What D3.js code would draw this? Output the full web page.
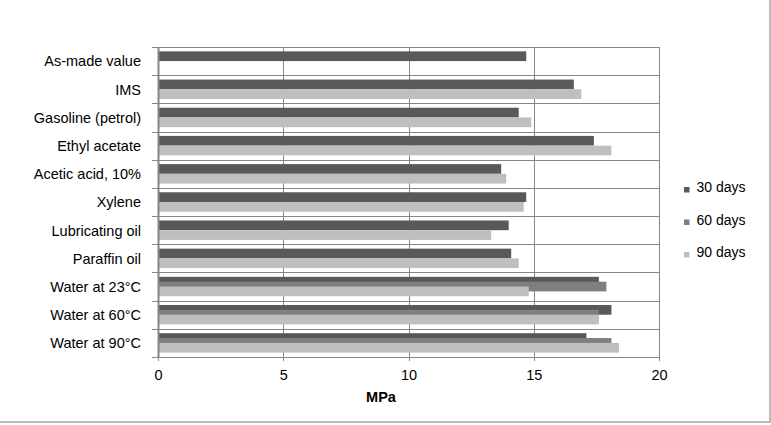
<!DOCTYPE html>
<html><head><meta charset="utf-8">
<script src="https://cdn.jsdelivr.net/npm/d3@7"></script>
<style>body{margin:0;background:#fff}svg{display:block}text{font-family:"Liberation Sans",Arial,sans-serif;fill:#000}</style>
</head><body><svg id="c" width="771" height="425"></svg>
<script>
const categories = ["As-made value","IMS","Gasoline (petrol)","Ethyl acetate","Acetic acid, 10%","Xylene","Lubricating oil","Paraffin oil","Water at 23°C","Water at 60°C","Water at 90°C"];
const seriesNames = ["30 days","60 days","90 days"];
const days30 = [14.7,16.6,14.4,17.4,13.7,14.7,14.0,14.1,17.6,18.1,17.1];
const days60 = [null,null,null,null,null,null,null,null,17.9,17.6,18.1];
const days90 = [null,16.9,14.9,18.1,13.9,14.6,13.3,14.4,14.8,17.6,18.4];
const xTicks = [0,5,10,15,20];
const colors = ["#595959","#7f7f7f","#bfbfbf"];
const series = [days30, days60, days90];

const svg = d3.select("#c");
const L=158, R=659, T=47, B=357;
const x = d3.scaleLinear().domain([0,20]).range([L,R]);
const y = d3.scaleBand().domain(categories).range([T,B]).paddingInner(0).paddingOuter(0);
const bw = y.bandwidth();
const bh = bw*0.345;
const step = bh/2;
const groupH = bh + 2*step;
const off0 = (bw-groupH)/2;

// outer frame
svg.append("rect").attr("x",-2).attr("y",-2).attr("width",772).attr("height",424).attr("fill","none").attr("stroke","#a6a6a6").attr("stroke-width",1.5);

// vertical gridlines
svg.append("g").selectAll("line").data(xTicks).join("line")
  .attr("x1",d=>Math.round(x(d))+0.5).attr("x2",d=>Math.round(x(d))+0.5)
  .attr("y1",T).attr("y2",B+4).attr("stroke","#868686").attr("stroke-width",1);
// horizontal lines at category boundaries
const bounds = categories.map(c=>y(c)).concat([B]);
svg.append("g").selectAll("line").data(bounds).join("line")
  .attr("x1",L-6).attr("x2",R).attr("y1",d=>Math.round(d)+0.5).attr("y2",d=>Math.round(d)+0.5)
  .attr("stroke","#868686").attr("stroke-width",1);

// bars
series.forEach((s,i)=>{
  svg.append("g").selectAll("rect").data(categories.map((c,j)=>({c,v:s[j]})).filter(d=>d.v!=null)).join("rect")
    .attr("x",x(0)).attr("y",d=>y(d.c)+off0+i*step).attr("width",d=>x(d.v)-x(0)).attr("height",bh)
    .attr("fill",colors[i]);
});

// left axis line
svg.append("line").attr("x1",L+0.5).attr("x2",L+0.5).attr("y1",T).attr("y2",B+1).attr("stroke","#868686").attr("stroke-width",2);

// category labels
svg.append("g").selectAll("text").data(categories).join("text")
  .attr("x",141).attr("y",d=>y(d)+bw/2).attr("dy","0.37em").attr("text-anchor","end")
  .attr("font-size",14.5).text(d=>d);

// x axis
const xa = d3.axisBottom(x).tickValues(xTicks).tickSize(0).tickPadding(0).tickFormat(d3.format("d"));
const gx = svg.append("g").attr("transform",`translate(0,0)`).call(xa);
gx.select(".domain").remove();
gx.selectAll("text").attr("font-size",14.5).attr("font-family","Liberation Sans, Arial, sans-serif").attr("fill","#000").attr("y",379.5).attr("dy",null);

svg.append("text").attr("x",381).attr("y",401.5).attr("text-anchor","middle").attr("font-size",14.5).attr("font-weight","bold").text("MPa");

// legend
const lg = svg.append("g").selectAll("g").data(seriesNames).join("g")
  .attr("transform",(d,i)=>`translate(684,${189.5+i*32.5})`);
lg.append("rect").attr("x",0).attr("y",-2.5).attr("width",5.5).attr("height",5.5).attr("fill",(d,i)=>colors[i]);
lg.append("text").attr("x",12.5).attr("y",2.5).attr("font-size",14).text(d=>d);
</script></body></html>
